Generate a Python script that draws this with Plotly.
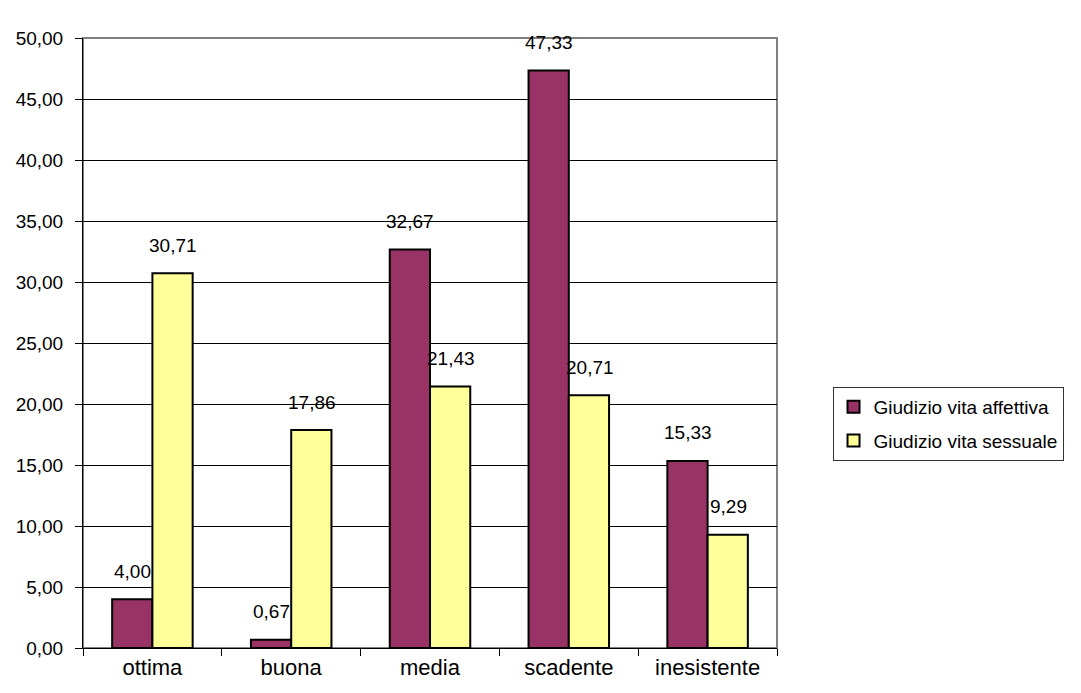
import plotly.graph_objects as go

categories = ["ottima", "buona", "media", "scadente", "inesistente"]
affettiva = [4.00, 0.67, 32.67, 47.33, 15.33]
sessuale = [30.71, 17.86, 21.43, 20.71, 9.29]
series_names = ["Giudizio vita affettiva", "Giudizio vita sessuale"]
y_ticks = [0, 5, 10, 15, 20, 25, 30, 35, 40, 45, 50]

FONT = "Liberation Sans, Arial, sans-serif"

fig = go.Figure()
fig.add_trace(go.Bar(x=categories, y=affettiva, name=series_names[0], legendgroup="a",
                     marker=dict(color="#993366", line=dict(color="black", width=2))))
fig.add_trace(go.Bar(x=categories, y=sessuale, name=series_names[1], legendgroup="b",
                     marker=dict(color="#FFFF99", line=dict(color="black", width=2))))

def fmt(v):
    return f"{v:.2f}".replace(".", ",")

for i, c in enumerate(categories):
    for vals, shift in ((affettiva, -20), (sessuale, 21)):
        fig.add_annotation(x=c, y=vals[i], text=fmt(vals[i]), showarrow=False,
                           xref="x", yref="y", xshift=shift, yshift=28,
                           font=dict(family=FONT, size=19, color="black"))

fig.update_layout(
    width=1081, height=693,
    margin=dict(l=83, r=304, t=38, b=45),
    paper_bgcolor="white", plot_bgcolor="white",
    separators=",.",
    barmode="group", bargap=0.42, bargroupgap=0,
    font=dict(family=FONT, size=19, color="black"),
    showlegend=True,
    legend=dict(x=1.08, y=0.428, xanchor="left", yanchor="top",
                bordercolor="#333333", borderwidth=1,
                font=dict(family=FONT, size=19, color="black"),
                itemsizing="constant", tracegroupgap=6),
    shapes=[dict(type="rect", xref="paper", yref="paper", x0=0, x1=1, y0=0, y1=1,
                 line=dict(color="#808080", width=2), layer="below")],
)
fig.update_xaxes(type="category", tickson="boundaries", ticks="outside", ticklen=7,
                 tickcolor="black", showline=True, linecolor="black", linewidth=1,
                 showgrid=False, tickfont=dict(family=FONT, size=22, color="black"))
fig.update_yaxes(range=[0, 50], tickvals=y_ticks, tickformat=".2f", ticks="outside",
                 ticklen=7, tickcolor="black", showline=True, linecolor="black",
                 linewidth=1, showgrid=True, gridcolor="black", gridwidth=1,
                 zeroline=False, ticklabelstandoff=8,
                 tickfont=dict(family=FONT, size=19, color="black"))

fig.write_html("out.html")
